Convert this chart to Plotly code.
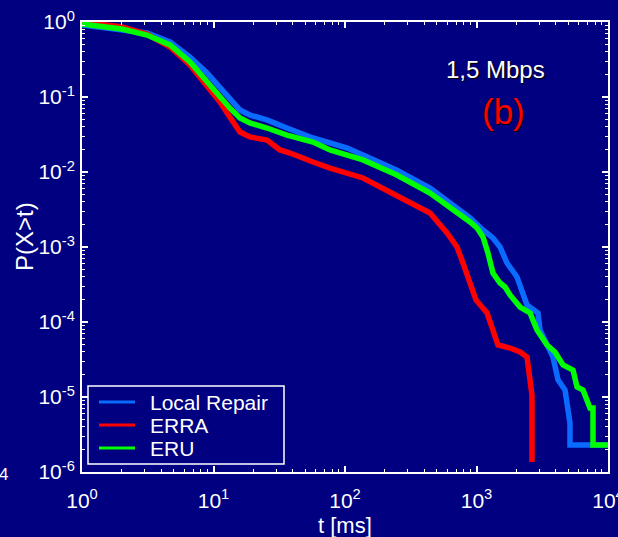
import plotly.graph_objects as go

# ---- data ----
lr_t = [1, 2.01, 3.12, 4.67, 6.62, 8.93, 11.2, 13.3, 15.9, 18.9, 25.5, 36.2, 57.1, 76.9, 104, 137,
        248, 443, 711, 893, 1120, 1334, 1510, 1706, 2032, 2338, 2422, 2935, 3041, 3817, 4169,
        4713, 5140, 5140, 10000]
lr_p = [0.912, 0.782, 0.713, 0.541, 0.341, 0.209, 0.132, 0.0912, 0.0671, 0.0575, 0.0494, 0.0386,
        0.0284, 0.0244, 0.0209, 0.0169, 0.0106, 0.00612, 0.00331, 0.00244, 0.00169, 0.00132, 0.001,
        0.000612, 0.000398, 0.000216, 0.000169, 0.000132, 7.82e-5, 3.41e-5, 1.69e-5, 1.24e-5,
        4.5e-6, 2.29e-6, 2.29e-6]

erra_t = [1, 2.01, 3.12, 4.67, 6.62, 8.93, 11.2, 13.3, 15.9, 18.9, 25.5, 32, 38.2, 57.1, 76.9, 137,
          248, 443, 597, 711, 789, 893, 991, 1202, 1334, 1456, 1799, 2143, 2422, 2553, 2642, 2642]
erra_p = [1.0, 0.858, 0.692, 0.464, 0.267, 0.145, 0.0858, 0.0541, 0.0341, 0.0293, 0.0267, 0.0197,
          0.0179, 0.0136, 0.0113, 0.00832, 0.00494, 0.00284, 0.00154, 0.001, 0.000612, 0.000331,
          0.000197, 0.000132, 7.82e-5, 4.94e-5, 4.5e-5, 3.98e-5, 3.41e-5, 1.85e-5, 1.06e-5, 1.36e-6]

eru_t = [1, 2.01, 3.12, 4.67, 6.62, 8.93, 11.2, 13.3, 15.9, 18.9, 25.5, 36.2, 57.1, 76.9, 137, 248,
         443, 711, 893, 1009, 1120, 1222, 1334, 1510, 1648, 1799, 2143, 2553, 2884, 3436, 3955,
         4550, 5420, 5810, 6455, 7295, 7690, 7690, 10000]
eru_p = [0.94, 0.807, 0.671, 0.494, 0.293, 0.158, 0.097, 0.0714, 0.0525, 0.045, 0.0386, 0.0311,
         0.0251, 0.0197, 0.0145, 0.00912, 0.00525, 0.00293, 0.00216, 0.00179, 0.00136, 0.000832,
         0.00045, 0.000331, 0.000293, 0.000229, 0.000158, 0.000132, 7.82e-5, 4.94e-5, 3.98e-5,
         2.67e-5, 2.29e-5, 1.36e-5, 1.24e-5, 7.14e-6, 7.14e-6, 2.29e-6, 2.29e-6]

series_names = ["Local Repair", "ERRA", "ERU"]
series_colors = ["#0a6cff", "#ff0000", "#00ff00"]

x_tickvals = [1, 10, 100, 1000, 10000]
x_ticktext = ["10<sup>0</sup>", "10<sup>1</sup>", "10<sup>2</sup>", "10<sup>3</sup>", "10<sup>4</sup>"]
y_tickvals = [1e-6, 1e-5, 1e-4, 1e-3, 1e-2, 1e-1, 1]
y_ticktext = ["10<sup>-6</sup>", "10<sup>-5</sup>", "10<sup>-4</sup>", "10<sup>-3</sup>",
              "10<sup>-2</sup>", "10<sup>-1</sup>", "10<sup>0</sup>"]

x_title = "t [ms]"
y_title = "P(X>t)"
rate_label = "1,5 Mbps"
panel_label = "(b)"
stray_label = "4"

BG = "#000080"
FONT = "Arial, Liberation Sans, sans-serif"

# plot-area geometry in pixels (for converting pixel placements to paper coords)
W, H = 618, 537
ML, MR, MT, MB = 82, 10, 22, 65
PW, PH = W - ML - MR, H - MT - MB


def px(xp):
    return (xp - ML) / PW


def py(yp):
    return (H - MB - yp) / PH


fig = go.Figure()
for t, p, name, col in zip([lr_t, erra_t, eru_t], [lr_p, erra_p, eru_p], series_names, series_colors):
    fig.add_trace(go.Scatter(x=t, y=p, mode="lines", name=name, showlegend=False,
                             line=dict(color=col, width=5.5)))

minor_x = [k * 10 ** n for n in range(0, 4) for k in range(2, 10)]
minor_y = [k * 10.0 ** n for n in range(-6, 0) for k in range(2, 10)]

axis_common = dict(
    showgrid=False, zeroline=False, showline=True, linecolor="white", linewidth=2,
    mirror="allticks", ticks="inside", ticklen=6, tickwidth=1.5, tickcolor="white",
    tickfont=dict(family=FONT, size=21, color="white"), ticklabeloverflow="allow",
    automargin=False,
)

fig.update_xaxes(type="log", range=[0, 4], tickmode="array", tickvals=x_tickvals,
                 ticktext=x_ticktext, ticklabelstandoff=9,
                 minor=dict(tickmode="array", tickvals=minor_x, ticks="inside", ticklen=3,
                            tickcolor="white", tickwidth=1, showgrid=False),
                 **axis_common)
fig.update_yaxes(type="log", range=[-6, 0], tickmode="array", tickvals=y_tickvals,
                 ticktext=y_ticktext, ticklabelstandoff=1,
                 minor=dict(tickmode="array", tickvals=minor_y, ticks="inside", ticklen=3,
                            tickcolor="white", tickwidth=1, showgrid=False),
                 **axis_common)

# legend box (drawn to match the compact legend of the reference)
shapes = [dict(type="rect", xref="paper", yref="paper", x0=px(88), x1=px(284), y0=py(464), y1=py(386),
               line=dict(color="white", width=1.5), fillcolor=BG, layer="above")]
annotations = []
for i, (name, col) in enumerate(zip(series_names, series_colors)):
    yc = 402 + 23 * i
    shapes.append(dict(type="line", xref="paper", yref="paper", x0=px(99), x1=px(135),
                       y0=py(yc), y1=py(yc), line=dict(color=col, width=3), layer="above"))
    annotations.append(dict(text=name, x=px(148), y=py(yc), xref="paper", yref="paper",
                            xanchor="left", yanchor="middle", showarrow=False,
                            font=dict(family=FONT, size=21, color="white")))

annotations += [
    dict(text=rate_label, x=px(495), y=py(69), xref="paper", yref="paper",
         xanchor="center", yanchor="middle", showarrow=False,
         font=dict(family=FONT, size=24, color="white", shadow="1px 1px 1px black")),
    dict(text=panel_label, x=px(503), y=py(112), xref="paper", yref="paper",
         xanchor="center", yanchor="middle", showarrow=False,
         font=dict(family=FONT, size=35, color="#ff0000", shadow="1px 1px 1px black")),
    dict(text=stray_label, x=px(3), y=py(475), xref="paper", yref="paper",
         xanchor="center", yanchor="middle", showarrow=False,
         font=dict(family=FONT, size=17, color="white")),
    dict(text=x_title, x=px(345), y=py(525), xref="paper", yref="paper",
         xanchor="center", yanchor="middle", showarrow=False,
         font=dict(family=FONT, size=22, color="white")),
    dict(text=y_title, x=px(25), y=py(237), xref="paper", yref="paper", textangle=-90,
         xanchor="center", yanchor="middle", showarrow=False,
         font=dict(family=FONT, size=24, color="white")),
]

fig.update_layout(
    width=W, height=H,
    margin=dict(l=ML, r=MR, t=MT, b=MB, autoexpand=False),
    paper_bgcolor=BG, plot_bgcolor=BG,
    font=dict(family=FONT, color="white"),
    showlegend=False,
    shapes=shapes,
    annotations=annotations,
)

fig.write_html("out.html")
